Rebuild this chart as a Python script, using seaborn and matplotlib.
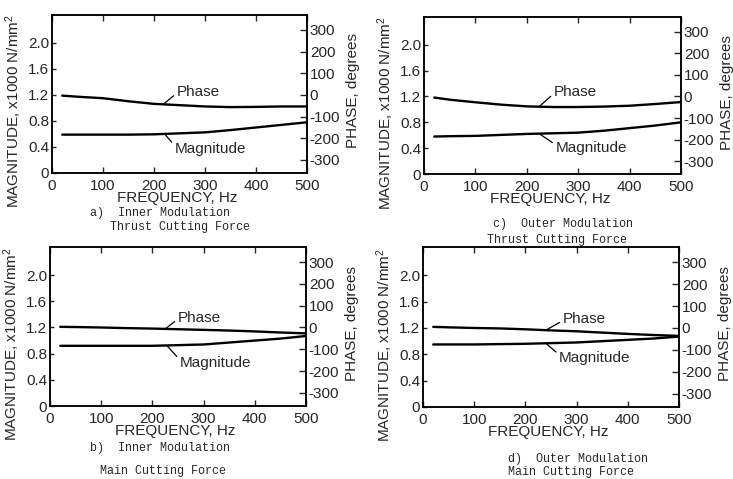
import numpy as np
import pandas as pd
import matplotlib
matplotlib.use("Agg")
import matplotlib.pyplot as plt
import seaborn as sns

# Frequency grid (Hz) shared by all four panels
freq = [20, 50, 100, 150, 200, 250, 300, 350, 400, 450, 500]

# a) Inner modulation, thrust cutting force
mag_a = [0.59, 0.59, 0.59, 0.59, 0.595, 0.61, 0.625, 0.66, 0.70, 0.74, 0.78]
phase_a = [-3, -8, -15, -29, -41, -47, -53, -56, -55, -53, -53]

# b) Inner modulation, main cutting force
mag_b = [0.92, 0.92, 0.92, 0.92, 0.92, 0.93, 0.94, 0.97, 1.00, 1.03, 1.07]
phase_b = [3, 2, 0, -3, -5, -8, -11, -14, -18, -23, -27]

# c) Outer modulation, thrust cutting force
mag_c = [0.58, 0.585, 0.59, 0.605, 0.62, 0.63, 0.64, 0.67, 0.71, 0.75, 0.80]
phase_c = [-5, -15, -27, -38, -46, -49, -49, -47, -43, -35, -26]

# d) Outer modulation, main cutting force
mag_d = [0.95, 0.95, 0.95, 0.955, 0.96, 0.97, 0.98, 1.00, 1.02, 1.04, 1.07]
phase_d = [5, 3, 0, -2, -6, -11, -15, -21, -27, -32, -36]

captions = [
    ("a)  Inner Modulation", "Thrust Cutting Force"),
    ("b)  Inner Modulation", "Main Cutting Force"),
    ("c)  Outer Modulation", "Thrust Cutting Force"),
    ("d)  Outer Modulation", "Main Cutting Force"),
]

mag_ticks = [0, 0.4, 0.8, 1.2, 1.6, 2.0]
mag_ticklabels = ["0", "0.4", "0.8", "1.2", "1.6", "2.0"]
phase_ticks = [-300, -200, -100, 0, 100, 200, 300]
phase_ticklabels = ["-300", "-200", "-100", "0", "100", "200", "300"]
freq_ticks = [0, 100, 200, 300, 400, 500]

sns.set_style("ticks")
plt.rcParams["font.family"] = ["Liberation Sans", "DejaVu Sans"]
plt.rcParams["mathtext.fontset"] = "custom"
plt.rcParams["mathtext.rm"] = "Liberation Sans"
plt.rcParams["mathtext.it"] = "Liberation Sans"

fig = plt.figure(figsize=(7.33, 4.79), dpi=100)

W, H = 733.0, 479.0
# pixel boxes: left, right, top, bottom
boxes = [(52, 307, 15, 173), (50, 306, 247, 406), (424, 681, 17, 174), (423, 679, 247, 407)]

panels = [
    (mag_a, phase_a),
    (mag_b, phase_b),
    (mag_c, phase_c),
    (mag_d, phase_d),
]

# label anchors: (phase text x, phase text y, phase leader freq), (mag text x, mag text y, mag leader freq)
label_pos = [
    ((245, 15, 218), (241, 0.37, 221)),
    ((250, 45, 225), (254, 0.66, 228)),
    ((253, 21, 224), (256, 0.41, 224)),
    ((273, 40, 240), (266, 0.75, 240)),
]

caption_px = [
    ((90, 213), (110, 227)),
    ((90, 448), (100, 471)),
    ((493, 224), (487, 240)),
    ((508, 459), (508, 472)),
]

for i, ((mag, phase), (l, r, t, b)) in enumerate(zip(panels, boxes)):
    ax = fig.add_axes([l / W, 1 - b / H, (r - l) / W, (b - t) / H])
    ax2 = ax.twinx()
    df = pd.DataFrame({"freq": freq, "mag": mag, "phase": phase})
    sns.lineplot(data=df, x="freq", y="mag", ax=ax, color="black", linewidth=1.7)
    sns.lineplot(data=df, x="freq", y="phase", ax=ax2, color="black", linewidth=1.7)

    ax.set_xlim(0, 500)
    ax.set_ylim(0, 2.43)
    ax2.set_ylim(-360, 369)

    ax.set_xticks(freq_ticks)
    ax.set_xticklabels([str(v) for v in freq_ticks], fontsize=11)
    ax.set_yticks(mag_ticks)
    ax.set_yticklabels(mag_ticklabels, fontsize=11)
    ax2.set_yticks(phase_ticks)
    ax2.set_yticklabels(phase_ticklabels, fontsize=11)

    ax.tick_params(axis="x", direction="in", top=True, length=4, width=1, pad=4)
    ax.tick_params(axis="y", direction="in", length=3, width=1, pad=2)
    ax2.tick_params(axis="y", direction="in", length=5, width=1, pad=2)

    for a in (ax, ax2):
        for s in a.spines.values():
            s.set_visible(True)
            s.set_linewidth(1.1)
            s.set_color("black")

    ax.set_xlabel("FREQUENCY, Hz", fontsize=11)
    ax.xaxis.set_label_coords(0.49, -0.115)
    ax.set_ylabel(r"MAGNITUDE, x1000 N/mm$^2$", fontsize=11)
    ax.yaxis.set_label_coords(-0.108, 0.39)
    ax2.set_ylabel("PHASE, degrees", fontsize=11)
    ax2.yaxis.set_label_coords(1.152, 0.52)

    (ptx, pty, pf), (mtx, mty, mf) = label_pos[i]
    ax2.annotate("Phase", xy=(pf, np.interp(pf, freq, phase)), xytext=(ptx, pty),
                 fontsize=11, va="center", ha="left",
                 arrowprops=dict(arrowstyle="-", color="black", lw=0.9,
                                 shrinkA=0, shrinkB=0, relpos=(0, 0.4)))
    ax.annotate("Magnitude", xy=(mf, np.interp(mf, freq, mag)), xytext=(mtx, mty),
                fontsize=11, va="center", ha="left",
                arrowprops=dict(arrowstyle="-", color="black", lw=0.9,
                                shrinkA=0, shrinkB=0, relpos=(0, 0.7)))

    (x1, y1), (x2, y2) = caption_px[i]
    fig.text(x1 / W, 1 - y1 / H, captions[i][0], family="Liberation Mono",
             fontsize=8.5, va="center", ha="left")
    fig.text(x2 / W, 1 - y2 / H, captions[i][1], family="Liberation Mono",
             fontsize=8.5, va="center", ha="left")

fig.savefig("out.png", dpi=100)
